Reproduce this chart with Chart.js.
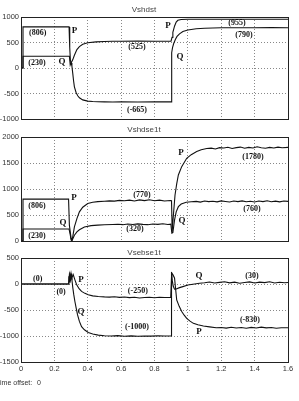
<!DOCTYPE html>
<html>
<head>
<meta charset="utf-8">
<script src="https://cdn.jsdelivr.net/npm/chart.js@4.4.1/dist/chart.umd.min.js"></script>
<style>
  html, body { margin: 0; padding: 0; background: #fff; }
  body { width: 299px; height: 401px; position: relative; overflow: hidden; }
  .panel { position: absolute; left: 0; }
  #offset { position: absolute; left: -4px; top: 379px; font: 7px "Liberation Sans Narrow", "Liberation Sans", Arial, sans-serif; color: #333; white-space: nowrap; }
  #offset span { position: absolute; left: 41px; }
</style>
</head>
<body>
<canvas id="c1" class="panel" style="top:0px"></canvas>
<canvas id="c2" class="panel" style="top:121px"></canvas>
<canvas id="c3" class="panel" style="top:244px"></canvas>
<div id="offset">Time offset:<span>0</span></div>
<script>
// panel 1 : Vshdst
const p1ATime = [0, 0.012, 0.012, 0.288, 0.292, 0.296, 0.300, 0.305, 0.31, 0.315,
  0.32, 0.33, 0.34, 0.35, 0.37, 0.40, 0.43, 0.46, 0.50, 0.55,
  0.60, 0.70, 0.80, 0.899, 0.903, 0.908, 0.915, 0.925, 0.935, 0.95,
  0.97, 1.0, 1.05, 1.1, 1.2, 1.3, 1.4, 1.5, 1.6];
const p1AVal = [0, 0, 806, 806, 400, 150, 100, 40, -100, -250,
  -370, -480, -545, -585, -625, -650, -658, -662, -665, -666,
  -665, -667, -665, -665, 300, 400, 480, 560, 620, 670,
  715, 745, 770, 780, 788, 790, 790, 791, 790];
const p1BTime = [0, 0.012, 0.012, 0.29, 0.295, 0.30, 0.31, 0.32, 0.335, 0.35,
  0.37, 0.40, 0.45, 0.50, 0.55, 0.60, 0.70, 0.80, 0.899, 0.905,
  0.91, 0.92, 0.93, 0.94, 0.96, 1.0, 1.1, 1.2, 1.3, 1.4,
  1.5, 1.6];
const p1BVal = [0, 0, 230, 230, 60, 100, 160, 250, 360, 420,
  465, 495, 512, 520, 524, 525, 526, 525, 525, 600,
  700, 820, 900, 935, 950, 955, 955, 956, 955, 955,
  956, 955];

// panel 2 : Vshdse1t
const p2PTime = [0, 0.012, 0.012, 0.285, 0.29, 0.30, 0.305, 0.31, 0.32, 0.335, 0.35, 0.37, 0.40, 0.43, 0.46, 0.50,
  0.53, 0.56, 0.59, 0.62, 0.65, 0.68, 0.71, 0.74, 0.77, 0.80, 0.83, 0.86,
  0.895, 0.902, 0.906, 0.912, 0.923, 0.933, 0.943, 0.963, 0.993, 1.02, 1.053, 1.08, 1.113,
  1.14, 1.165, 1.19, 1.215, 1.24, 1.265, 1.29, 1.315, 1.34, 1.365, 1.39, 1.415, 1.44, 1.465, 1.49, 1.515, 1.54, 1.565,
  1.6];
const p2PVal = [0, 0, 806, 806, 300, 60, 10, 80, 270, 430, 560, 650, 720, 745, 758, 765,
  772, 766, 781, 774, 786, 770, 790, 777, 793, 774, 786, 770,
  780, 775, 180, 450, 885, 1100, 1270, 1430, 1590, 1660, 1720, 1755, 1780,
  1786, 1770, 1796, 1788, 1802, 1779, 1795, 1806, 1784, 1800, 1789, 1812, 1794, 1783, 1801, 1790, 1806, 1794,
  1800];
const p2QTime = [0, 0.012, 0.012, 0.288, 0.295, 0.30, 0.305, 0.31, 0.32, 0.335, 0.35, 0.38, 0.42, 0.46, 0.50, 0.55,
  0.58, 0.61, 0.64, 0.67, 0.70, 0.73, 0.76, 0.79, 0.82, 0.85, 0.88,
  0.898, 0.904, 0.91, 0.92, 0.93, 0.943, 0.96, 0.973, 0.99, 1.02,
  1.05, 1.075, 1.10, 1.125, 1.15, 1.175, 1.20, 1.225, 1.25, 1.275, 1.30, 1.325, 1.35, 1.375, 1.40, 1.425, 1.45, 1.475, 1.50, 1.525, 1.55, 1.575,
  1.6];
const p2QVal = [0, 0, 230, 230, 120, 20, 5, 40, 110, 175, 215, 270, 295, 305, 312, 318,
  322, 314, 326, 317, 329, 320, 314, 327, 319, 331, 318,
  325, 150, 160, 400, 560, 660, 710, 725, 745, 755,
  762, 748, 770, 757, 765, 752, 771, 760, 749, 768, 757, 772, 755, 763, 750, 769, 758, 774, 756, 766, 753, 770,
  762];

// panel 3 : Vsebse1t
const p3PTime = [0, 0.283, 0.287, 0.29, 0.293, 0.296, 0.30, 0.305, 0.313, 0.323, 0.333, 0.348, 0.363, 0.383, 0.403, 0.43, 0.463, 0.50,
  0.53, 0.56, 0.59, 0.62, 0.65, 0.68, 0.71, 0.74, 0.77, 0.80, 0.83, 0.86,
  0.897, 0.903, 0.91, 0.92, 0.933, 0.948, 0.963, 0.978, 0.993, 1.013, 1.033, 1.06, 1.093, 1.13, 1.17,
  1.20, 1.23, 1.26, 1.29, 1.32, 1.35, 1.38, 1.41, 1.44, 1.47, 1.50, 1.53, 1.56,
  1.6];
const p3PVal = [0, 0, 150, 40, 220, 60, 160, 120, 180, 80, -10, -90, -143, -180, -207, -228, -240, -248,
  -252, -246, -258, -250, -262, -255, -268, -260, -256, -265, -254, -260,
  -258, 210, 180, 116, -305, -430, -530, -600, -660, -715, -757, -785, -809, -825, -842,
  -836, -848, -832, -845, -838, -852, -835, -846, -830, -844, -836, -850, -840,
  -842];
const p3QTime = [0, 0.285, 0.29, 0.295, 0.30, 0.304, 0.31, 0.316, 0.323, 0.331, 0.339, 0.35, 0.363, 0.38, 0.403, 0.43, 0.463, 0.50,
  0.54, 0.58, 0.62, 0.66, 0.70, 0.74, 0.78, 0.82, 0.86,
  0.899, 0.902, 0.907, 0.912, 0.92, 0.93, 0.95, 0.97, 1.0, 1.03, 1.07,
  1.10, 1.13, 1.16, 1.19, 1.22, 1.25, 1.28, 1.31, 1.34, 1.37, 1.40, 1.43, 1.46, 1.49, 1.52, 1.55, 1.58,
  1.6];
const p3QVal = [0, 0, 180, 80, 200, 116, -60, -200, -337, -470, -595, -720, -822, -880, -931, -960, -983, -995,
  -1000, -993, -1004, -998, -1006, -999, -1003, -996, -1001,
  -1000, 230, 60, -40, -100, -97, -70, -50, -20, -5, 15,
  25, 38, 18, 32, 44, 22, 35, 15, 30, 40, 20, 36, 26, 42, 18, 33, 24,
  30];

// annotations: text, time, value
const p1Notes = [["(806)", 0.10, 692], ["P", 0.32, 732], ["(230)", 0.096, 104], ["Q", 0.246, 123],
  ["(525)", 0.695, 417], ["(-665)", 0.695, -817], ["(955)", 1.294, 888], ["(790)", 1.336, 653],
  ["P", 0.881, 829], ["Q", 0.953, 221]];
const p2Notes = [["(806)", 0.096, 673], ["P", 0.318, 827], ["Q", 0.252, 346], ["(230)", 0.096, 96],
  ["(770)", 0.725, 885], ["(320)", 0.683, 231], ["P", 0.959, 1692], ["(1780)", 1.39, 1615],
  ["(760)", 1.384, 615], ["Q", 0.965, 385]];
const p3Notes = [["(0)", 0.10, 103], ["(0)", 0.24, -149], ["P", 0.36, 83], ["(-250)", 0.70, -130],
  ["Q", 0.36, -537], ["(-1000)", 0.695, -828], ["Q", 1.067, 161], ["(30)", 1.384, 161],
  ["(-830)", 1.372, -693], ["P", 1.067, -924]];

const titles = ["Vshdst", "Vshdse1t", "Vsebse1t"];
const xTicks = [0, 0.2, 0.4, 0.6, 0.8, 1, 1.2, 1.4, 1.6];

const axisFont = '"Liberation Sans Narrow", "Liberation Sans", Arial, sans-serif';

const frame = {
  id: "frame",
  afterDatasetsDraw(chart) {
    const a = chart.chartArea, ctx = chart.ctx;
    ctx.save();
    ctx.strokeStyle = "#222";
    ctx.lineWidth = 1;
    ctx.strokeRect(Math.round(a.left) + 0.5, Math.round(a.top) + 0.5, Math.round(a.right - a.left), Math.round(a.bottom - a.top));
    ctx.restore();
  }
};

const notes = {
  id: "notes",
  afterDatasetsDraw(chart, args, opts) {
    const ctx = chart.ctx, sx = chart.scales.x, sy = chart.scales.y;
    ctx.save();
    ctx.fillStyle = "#111";
    ctx.textAlign = "center";
    ctx.textBaseline = "middle";
    opts.items.forEach(([txt, t, v]) => {
      ctx.font = (txt.length == 1 ? "bold 9px" : "bold 8px") + ' "Liberation Serif", "Times New Roman", serif';
      ctx.fillText(txt, sx.getPixelForValue(t), sy.getPixelForValue(v));
    });
    ctx.restore();
  }
};

function toPoints(ts, vs) {
  return ts.map((t, i) => ({ x: t, y: vs[i] }));
}

function panel(id, h, title, padTop, padBottom, series, yMin, yMax, showX, xH, items) {
  const cv = document.getElementById(id);
  cv.width = 299;
  cv.height = h;
  return new Chart(cv, {
    type: "line",
    data: {
      datasets: series.map(s => ({
        data: toPoints(s[0], s[1]),
        borderColor: "#111",
        borderWidth: 1.1,
        pointRadius: 0,
        tension: 0,
        fill: false
      }))
    },
    options: {
      responsive: false,
      animation: false,
      layout: { padding: { left: 0, right: 11, top: 0, bottom: 0 } },
      plugins: {
        legend: { display: false },
        tooltip: { enabled: false },
        title: {
          display: true,
          text: title,
          color: "#444",
          font: { family: axisFont, size: 8, weight: "normal", lineHeight: 1 },
          padding: { top: padTop, bottom: padBottom }
        },
        notes: { items: items }
      },
      scales: {
        x: {
          type: "linear",
          min: 0,
          max: 1.6,
          afterBuildTicks: s => { s.ticks = xTicks.map(v => ({ value: v })); },
          ticks: { display: showX, color: "#333", padding: 2, maxRotation: 0, font: { family: axisFont, size: 7.5 },
            callback: v => String(v) },
          grid: { color: "#888", drawTicks: false, borderDash: [1, 2] },
          border: { display: false, dash: [1, 2] },
          afterFit: s => { s.height = xH; }
        },
        y: {
          min: yMin,
          max: yMax,
          ticks: { stepSize: 500, color: "#333", padding: 2, font: { family: axisFont, size: 7.5 },
            callback: v => String(v) },
          grid: { color: "#888", drawTicks: false, borderDash: [1, 2] },
          border: { display: false, dash: [1, 2] },
          afterFit: s => { s.width = 21; }
        }
      }
    },
    plugins: [frame, notes]
  });
}

panel("c1", 126, titles[0], 6, 3, [[p1ATime, p1AVal], [p1BTime, p1BVal]], -1000, 1000, false, 7, p1Notes);
panel("c2", 127, titles[1], 5, 3, [[p2PTime, p2PVal], [p2QTime, p2QVal]], 0, 2000, false, 7, p2Notes);
panel("c3", 130, titles[2], 5, 1, [[p3PTime, p3PVal], [p3QTime, p3QVal]], -1500, 500, true, 12, p3Notes);
</script>
</body>
</html>
